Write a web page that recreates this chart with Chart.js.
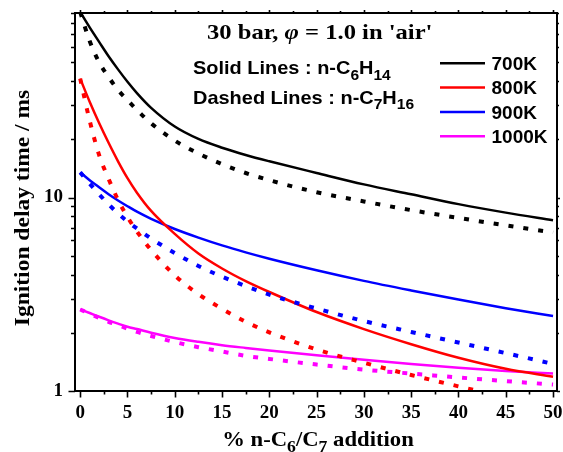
<!DOCTYPE html>
<html>
<head>
<meta charset="utf-8">
<script src="https://cdn.jsdelivr.net/npm/chart.js@4/dist/chart.umd.min.js"></script>
<style>
  html, body { margin: 0; padding: 0; background: #fff; }
  #wrap { width: 563px; height: 452px; position: relative; }
</style>
</head>
<body>
<div id="wrap"><canvas id="c" width="563" height="452"></canvas></div>
<script>
// ---------- DATA ----------
const additionPct = [0, 1, 2, 3, 4, 5, 6, 7.5, 10, 12.5, 15, 17.5, 20, 25, 30, 35, 40, 45, 50];

// Solid lines: n-C6H14 addition
const hexane700K  = [91, 75.8, 63.8, 53.8, 46.0, 39.7, 34.7, 29.1, 23.3, 20.1, 18.1, 16.6, 15.4, 13.4, 11.7, 10.4, 9.25, 8.36, 7.64];
const hexane800K  = [41.2, 31.3, 24.3, 19.2, 15.4, 12.6, 10.6, 8.53, 6.49, 5.14, 4.30, 3.70, 3.25, 2.56, 2.09, 1.746, 1.486, 1.303, 1.185];
const hexane900K  = [13.5, 12.3, 11.3, 10.4, 9.66, 9.02, 8.45, 7.76, 6.88, 6.21, 5.66, 5.21, 4.83, 4.21, 3.71, 3.31, 2.97, 2.68, 2.44];
const hexane1000K = [2.64, 2.53, 2.42, 2.32, 2.23, 2.15, 2.09, 2.00, 1.88, 1.795, 1.725, 1.67, 1.62, 1.53, 1.45, 1.38, 1.32, 1.268, 1.23];

// Dashed lines: n-C7H16 addition
const heptane700K  = [91, 64.5, 50.1, 42.0, 36.0, 31.9, 28.4, 24.2, 19.7, 16.9, 14.9, 13.4, 12.3, 10.66, 9.55, 8.61, 7.85, 7.18, 6.59];
const heptane800K  = [41.2, 25.0, 16.6, 12.5, 9.73, 7.94, 6.68, 5.36, 3.96, 3.17, 2.66, 2.28, 2.01, 1.64, 1.40, 1.21, 1.057, 0.927, 0.812];
const heptane900K  = [13.5, 11.8, 10.4, 9.23, 8.27, 7.52, 6.92, 6.14, 5.17, 4.43, 3.90, 3.49, 3.15, 2.67, 2.30, 2.02, 1.78, 1.57, 1.38];
const heptane1000K = [2.64, 2.51, 2.39, 2.28, 2.19, 2.10, 2.02, 1.925, 1.79, 1.685, 1.60, 1.52, 1.465, 1.37, 1.29, 1.23, 1.175, 1.125, 1.08];

const temperatureLabels = ['700K', '800K', '900K', '1000K'];
const xTickValues = [0, 5, 10, 15, 20, 25, 30, 35, 40, 45, 50];
const xMinorTickValues = [2.5, 7.5, 12.5, 17.5, 22.5, 27.5, 32.5, 37.5, 42.5, 47.5];
const yTickValues = [1, 2, 3, 4, 5, 6, 7, 8, 9, 10, 20, 30, 40, 50, 60, 70, 80, 90];
const yTickLabels = { 1: '1', 10: '10' };

// ---------- STYLE ----------
const colors = ['#000000', '#ff0000', '#0000ff', '#ff00ff'];
const SERIF = '"Liberation Serif", "Times New Roman", serif';
const SANS = '"Liberation Sans", Arial, sans-serif';

function pts(arr) { return additionPct.map((x, i) => ({ x: x, y: arr[i] })); }

const solidSeries = [hexane700K, hexane800K, hexane900K, hexane1000K];
const dashedSeries = [heptane700K, heptane800K, heptane900K, heptane1000K];

const datasets = [];
dashedSeries.forEach((arr, i) => datasets.push({
  label: temperatureLabels[i] + ' n-C7H16',
  data: pts(arr),
  borderColor: colors[i],
  borderWidth: 4,
  borderDash: [5, 10],
  borderCapStyle: 'butt',
  pointRadius: 0,
  cubicInterpolationMode: 'monotone',
  clip: 0,
  fill: false
}));
solidSeries.forEach((arr, i) => datasets.push({
  label: temperatureLabels[i] + ' n-C6H14',
  data: pts(arr),
  borderColor: colors[i],
  borderWidth: 2.5,
  pointRadius: 0,
  cubicInterpolationMode: 'monotone',
  clip: 0,
  fill: false
}));

// draw mixed text with subscripts / italics
function drawRich(ctx, segs, x, y, o) {
  ctx.save();
  ctx.translate(x, y);
  if (o.rotate) ctx.rotate(o.rotate);
  ctx.scale(o.sx || 1, 1);
  ctx.fillStyle = o.color || '#000';
  ctx.textBaseline = 'alphabetic';
  ctx.textAlign = 'left';
  const fontFor = s => (s[1] === 'i' ? 'italic ' : '') + 'bold ' + (s[1] === 's' ? o.size * 0.78 : o.size) + 'px ' + o.family;
  let total = 0;
  const widths = segs.map(s => { ctx.font = fontFor(s); const w = ctx.measureText(s[0]).width; total += w; return w; });
  let cx = o.align === 'center' ? -total / 2 : 0;
  segs.forEach((s, i) => {
    ctx.font = fontFor(s);
    ctx.fillText(s[0], cx, s[1] === 's' ? o.size * 0.3 : 0);
    cx += widths[i];
  });
  ctx.restore();
}

const decorPlugin = {
  id: 'decor',
  afterDraw(chart) {
    const ctx = chart.ctx;
    const { left, right, top, bottom } = chart.chartArea;
    const xs = chart.scales.x, ys = chart.scales.y;
    ctx.save();
    ctx.strokeStyle = '#000';
    ctx.lineWidth = 2;
    ctx.strokeRect(left, top, right - left, bottom - top);
    ctx.lineWidth = 1.6;
    ctx.beginPath();
    xTickValues.concat(xMinorTickValues).forEach(v => {
      const px = Math.round(xs.getPixelForValue(v)) + 0.5;
      const major = xTickValues.includes(v);
      ctx.moveTo(px, bottom); ctx.lineTo(px, bottom + (major ? 6.5 : 3.5));
      ctx.moveTo(px, top); ctx.lineTo(px, top - (major ? 3 : 2));
    });
    yTickValues.forEach(v => {
      const py = Math.round(ys.getPixelForValue(v)) + 0.5;
      const major = (v === 1 || v === 10);
      ctx.moveTo(left, py); ctx.lineTo(left - (major ? 6.5 : 4), py);
      ctx.moveTo(right, py); ctx.lineTo(right + (major ? 3 : 2), py);
    });
    ctx.stroke();

    // axis titles
    drawRich(ctx, [['Ignition delay time / ms', 'n']], 29, 208, { size: 21, family: SERIF, align: 'center', rotate: -Math.PI / 2, sx: 1.12 });
    drawRich(ctx, [['% n-C', 'n'], ['6', 's'], ['/C', 'n'], ['7', 's'], [' addition', 'n']], 318, 446, { size: 21, family: SERIF, align: 'center', sx: 1.08 });

    // annotations
    drawRich(ctx, [['30 bar, ', 'n'], ['\u03C6', 'i'], [' = 1.0 in \'air\'', 'n']], 207, 38.5, { size: 21, family: SERIF, sx: 1.17 });
    drawRich(ctx, [['Solid Lines : n-C', 'n'], ['6', 's'], ['H', 'n'], ['14', 's']], 193, 74, { size: 19, family: SANS, sx: 1.05 });
    drawRich(ctx, [['Dashed Lines : n-C', 'n'], ['7', 's'], ['H', 'n'], ['16', 's']], 193, 103.5, { size: 19, family: SANS, sx: 1.05 });

    // legend (solid lines)
    temperatureLabels.forEach((lab, i) => {
      const ly = 63.3 + i * 24.3;
      ctx.strokeStyle = colors[i];
      ctx.lineWidth = 2.5;
      ctx.beginPath();
      ctx.moveTo(440, ly); ctx.lineTo(485, ly);
      ctx.stroke();
      drawRich(ctx, [[lab, 'n']], 491.5, ly + 6.8, { size: 19, family: SANS });
    });
    ctx.restore();
  }
};

new Chart(document.getElementById('c'), {
  type: 'line',
  data: { datasets: datasets },
  options: {
    responsive: false,
    animation: false,
    devicePixelRatio: 1,
    layout: { padding: { top: 13, right: 6, left: 0, bottom: 0 } },
    plugins: { legend: { display: false }, tooltip: { enabled: false } },
    scales: {
      x: {
        type: 'linear',
        min: -0.55,
        max: 50.42,
        afterBuildTicks: s => { s.ticks = xTickValues.map(v => ({ value: v })); },
        afterFit: s => { s.height = 61; s.paddingLeft = 0; s.paddingRight = 0; },
        grid: { display: false, drawTicks: false },
        border: { display: false },
        ticks: {
          autoSkip: false, maxRotation: 0, padding: 11, color: '#000',
          font: { family: SERIF, size: 19, weight: 'bold' }
        },
        title: { display: false }
      },
      y: {
        type: 'logarithmic',
        min: 1,
        max: 90,
        afterBuildTicks: s => { s.ticks = yTickValues.map(v => ({ value: v })); },
        afterFit: s => { s.width = 75; s.paddingTop = 0; s.paddingBottom = 0; },
        grid: { display: false, drawTicks: false },
        border: { display: false },
        ticks: {
          autoSkip: false, padding: 12, color: '#000',
          font: { family: SERIF, size: 19, weight: 'bold' },
          callback: v => (yTickLabels[v] !== undefined ? yTickLabels[v] : '')
        },
        title: { display: false }
      }
    }
  },
  plugins: [decorPlugin]
});
</script>
</body>
</html>
